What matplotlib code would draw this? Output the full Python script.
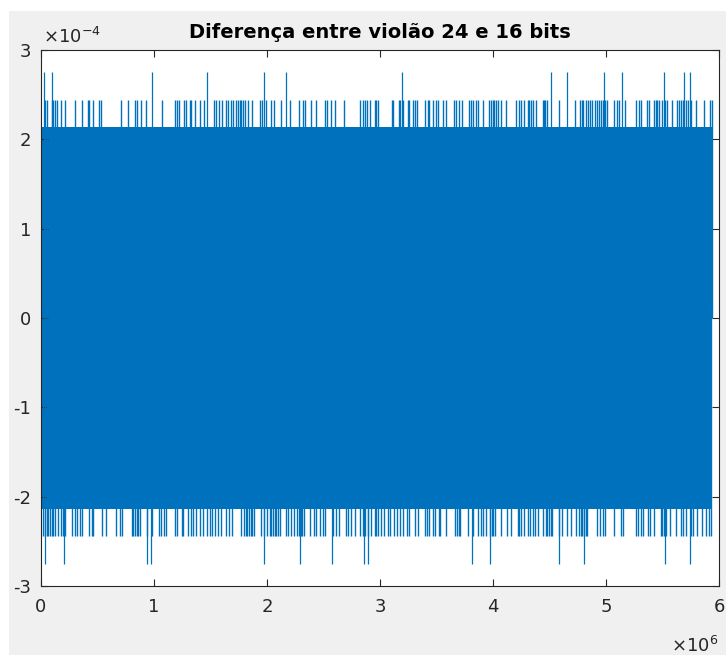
import numpy as np
import matplotlib
matplotlib.use('Agg')
import matplotlib.pyplot as plt
from matplotlib.patches import Rectangle

plt.rcParams['font.family'] = ['DejaVu Sans']
plt.rcParams['mathtext.fontset'] = 'dejavusans'

# signal length (samples) and the quantisation levels of the difference
n_samples = 5.94e6
core_level = 2.14e-4      # +-7 LSB, where nearly every block reaches
mid_level = 2.44e-4       # +-8 LSB
peak_level = 2.75e-4      # +-9 LSB

# positions (x 1e6 samples) of the samples that reach +-9 LSB
peak_pos = [0.024, 0.095, 0.980, 1.466, 1.971, 2.168, 3.192, 4.516, 4.652,
            4.985, 5.139, 5.513, 5.690, 5.743]
peak_neg = [0.035, 0.204, 0.938, 0.976, 1.971, 2.292, 2.578, 2.856, 2.894,
            3.814, 3.976, 4.581, 4.805, 5.519, 5.743]

# positions (x 1e6 samples) of the samples that reach +-8 LSB
mid_pos = [0.035, 0.056, 0.095, 0.109, 0.121, 0.145, 0.174, 0.212, 0.304, 0.360,
           0.413, 0.428, 0.460, 0.510, 0.531, 0.708, 0.773, 0.832, 0.847, 0.885,
           0.929, 1.074, 1.189, 1.206, 1.224, 1.263, 1.283, 1.316, 1.330, 1.363,
           1.407, 1.445,
           1.531, 1.551, 1.575, 1.602, 1.640, 1.655, 1.679, 1.699, 1.729, 1.743,
           1.758, 1.773, 1.788, 1.808, 1.832, 1.870, 1.941, 1.958, 1.994, 2.038,
           2.062, 2.121, 2.201, 2.281, 2.319, 2.333, 2.392, 2.436, 2.511, 2.528,
           2.569, 2.605, 2.678, 2.820, 2.850, 2.864, 2.888, 2.909, 2.953, 2.967,
           2.980, 3.106, 3.118, 3.165, 3.177, 3.201, 3.245, 3.259, 3.289, 3.312,
           3.327, 3.401, 3.422, 3.436, 3.466, 3.496, 3.510, 3.555, 3.584, 3.658,
           3.673, 3.696, 3.726, 3.785, 3.805, 3.826, 3.850, 3.865, 3.909, 3.967,
           3.982, 3.997, 4.012, 4.027, 4.042, 4.071, 4.115, 4.204, 4.233, 4.248,
           4.277, 4.307, 4.321, 4.336, 4.351, 4.381, 4.440, 4.454,
           4.460, 4.481, 4.584, 4.723, 4.770, 4.785, 4.799, 4.820, 4.841, 4.858,
           4.879, 4.900, 4.918, 4.938, 4.958, 4.976, 4.988, 5.006, 5.071, 5.095,
           5.115, 5.165, 5.263, 5.292, 5.307, 5.360, 5.381, 5.425, 5.440, 5.454,
           5.469, 5.498, 5.519, 5.537, 5.581, 5.625, 5.646, 5.666, 5.684, 5.705,
           5.726, 5.749, 5.794, 5.867, 5.920, 5.941]
mid_neg = [0.020, 0.035, 0.050, 0.065, 0.080, 0.095, 0.109, 0.124, 0.153, 0.174,
           0.192, 0.212, 0.272, 0.301, 0.321, 0.345, 0.360, 0.428, 0.449, 0.463,
           0.537, 0.575, 0.664, 0.699, 0.714, 0.803, 0.817, 0.832, 0.847, 0.861,
           0.876, 0.935, 0.980, 1.047, 1.059, 1.088, 1.106, 1.186, 1.206, 1.245,
           1.260, 1.304, 1.325, 1.343, 1.372, 1.407, 1.437, 1.466,
           1.493, 1.513, 1.537, 1.566, 1.596, 1.640, 1.661, 1.690, 1.773, 1.796,
           1.811, 1.826, 1.841, 1.855, 1.870, 1.885, 1.944, 1.973, 2.003, 2.024,
           2.038, 2.053, 2.068, 2.082, 2.097, 2.112, 2.171, 2.186, 2.215, 2.239,
           2.268, 2.283, 2.298, 2.312, 2.327, 2.378, 2.416, 2.436, 2.466, 2.496,
           2.511, 2.584, 2.613, 2.635, 2.702, 2.717, 2.746, 2.776, 2.820, 2.850,
           2.870, 2.894, 2.923, 2.953, 2.967,
           2.980, 3.009, 3.038, 3.068, 3.088, 3.127, 3.148, 3.177, 3.207, 3.236,
           3.260, 3.313, 3.334, 3.401, 3.416, 3.431, 3.466, 3.490, 3.519, 3.534,
           3.584, 3.667, 3.681, 3.696, 3.711, 3.776, 3.820, 3.865, 3.894, 3.915,
           3.938, 3.973, 3.988, 4.003, 4.018, 4.071, 4.121, 4.159, 4.218, 4.233,
           4.248, 4.277, 4.307, 4.327, 4.351, 4.374, 4.395, 4.440,
           4.466, 4.481, 4.496, 4.510, 4.525, 4.584, 4.614, 4.652, 4.688, 4.732,
           4.761, 4.776, 4.791, 4.805, 4.820, 4.835, 4.918, 4.947, 4.976, 4.991,
           5.071, 5.130, 5.153, 5.263, 5.283, 5.307, 5.330, 5.372, 5.389, 5.425,
           5.484, 5.498, 5.513, 5.528, 5.566, 5.616, 5.660, 5.684, 5.705, 5.749,
           5.772, 5.802, 5.852, 5.881, 5.910, 5.931]

blue = '#0072BD'
axcol = '#262626'

fig = plt.figure(figsize=(7.26, 6.55), dpi=100, facecolor='white')
fig.patches.append(Rectangle((9 / 726, 0), 1, 644 / 655, transform=fig.transFigure,
                             facecolor='#F0F0F0', edgecolor='none', zorder=-10))
ax = fig.add_axes([41 / 726, 69 / 655, 678 / 726, 536 / 655])

# dense body of the signal
ax.fill_between([0, n_samples], -core_level, core_level, color=blue, lw=0)
# isolated samples sticking out of the band
ax.vlines(np.array(mid_pos) * 1e6, 0, mid_level, color=blue, lw=1.0)
ax.vlines(np.array(mid_neg) * 1e6, -mid_level, 0, color=blue, lw=1.0)
ax.vlines(np.array(peak_pos) * 1e6, 0, peak_level, color=blue, lw=0.9)
ax.vlines(np.array(peak_neg) * 1e6, -peak_level, 0, color=blue, lw=0.9)

ax.set_xlim(0, 6e6)
ax.set_ylim(-3e-4, 3e-4)
ax.set_xticks(np.arange(0, 7) * 1e6)
ax.set_xticklabels([str(i) for i in range(7)])
ax.set_yticks(np.arange(-3, 4) * 1e-4)
ax.set_yticklabels([str(i) for i in range(-3, 4)])
ax.tick_params(direction='in', length=5, width=0.8, colors=axcol, labelsize=13,
               top=True, right=True)
ax.tick_params(axis='x', pad=9)
ax.tick_params(axis='y', pad=7)
for s in ax.spines.values():
    s.set_color(axcol)
    s.set_linewidth(0.8)

ax.set_title('Diferença entre violão 24 e 16 bits', fontsize=14, fontweight='bold',
             color='black', pad=8.5)
ax.text(0.003, 1.013, r'$\times10^{-4}$', transform=ax.transAxes, fontsize=13,
        color=axcol, ha='left', va='baseline')
ax.text(0.9985, -0.123, r'$\times10^{6}$', transform=ax.transAxes, fontsize=13,
        color=axcol, ha='right', va='baseline')

fig.savefig('out.png', dpi=100, facecolor=fig.get_facecolor())
